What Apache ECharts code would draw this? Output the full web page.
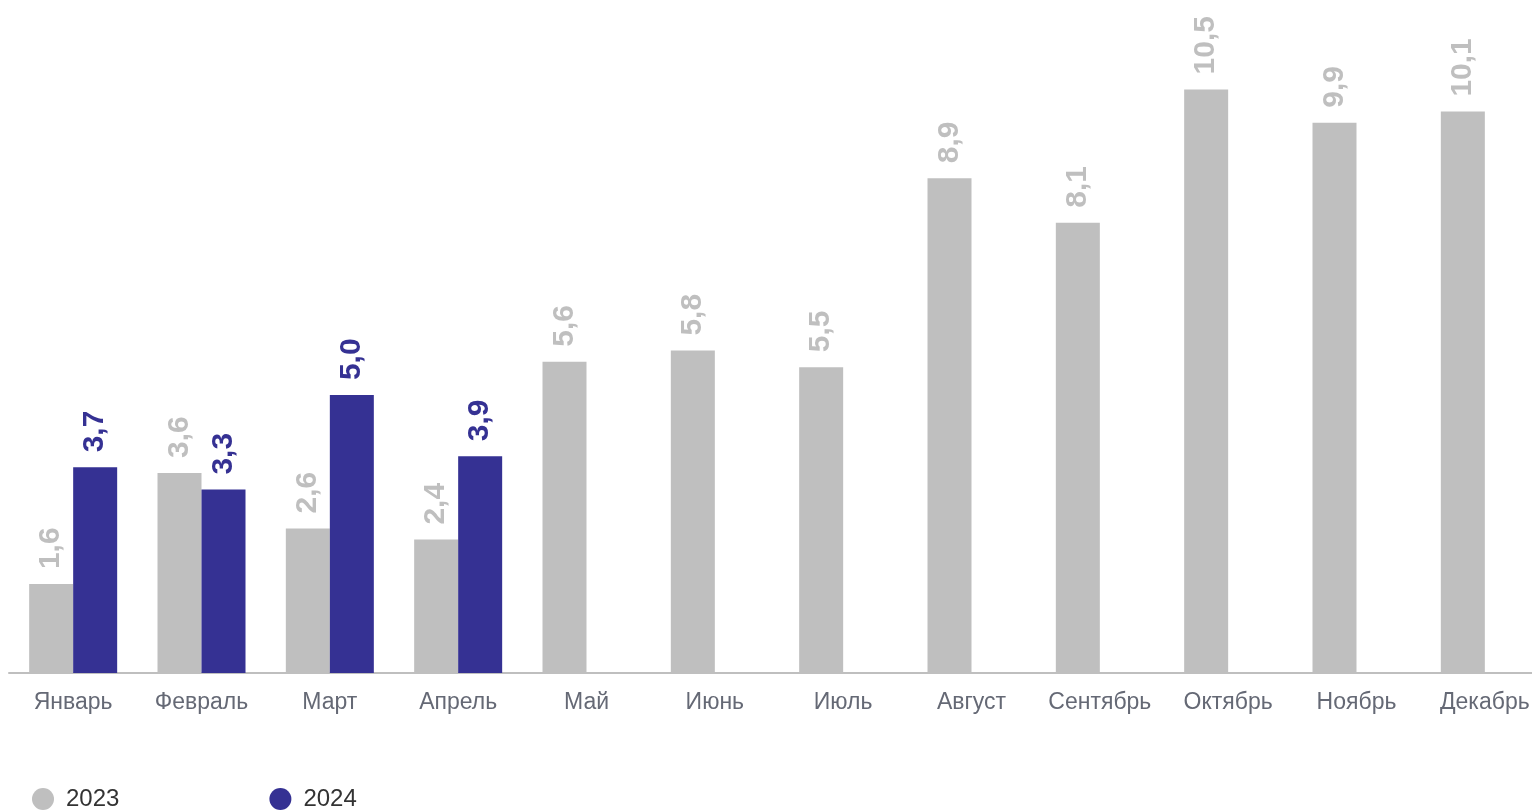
<!DOCTYPE html>
<html><head><meta charset="utf-8">
<script src="https://cdn.jsdelivr.net/npm/echarts@6/dist/echarts.min.js"></script>
<style>html,body{margin:0;padding:0;background:#fff}#c{width:1532px;height:810px}</style>
</head><body><div id="c"></div>
<script>
const categories = ['Январь','Февраль','Март','Апрель','Май','Июнь','Июль','Август','Сентябрь','Октябрь','Ноябрь','Декабрь'];
const values2023 = [1.6,3.6,2.6,2.4,5.6,5.8,5.5,8.9,8.1,10.5,9.9,10.1];
const values2024 = [3.7,3.3,5.0,3.9,null,null,null,null,null,null,null,null];
const seriesNames = ['2023','2024'];

const chart = echarts.init(document.getElementById('c'));
const fmt = p => p.value == null ? '' : p.value.toFixed(1).replace('.', ',');
function lbl(color){
  return {show:true, position:'top', rotate:90, align:'left', verticalAlign:'middle', distance:15,
    color:color, fontFamily:'Liberation Sans, Arial, sans-serif', fontWeight:'bold', fontSize:30, formatter:fmt};
}
chart.setOption({
  animation:false,
  grid:{left:9, width:1540, top:6, bottom:137, containLabel:false, outerBoundsMode:'none'},
  legend:{left:27, top:782, icon:'circle', itemWidth:22, itemHeight:22, itemGap:150,
    textStyle:{fontSize:24, color:'#333', fontFamily:'Liberation Sans, Arial, sans-serif', padding:[6,0,0,7]},
    data:seriesNames},
  xAxis:{type:'category', data:categories, axisTick:{show:false},
    axisLine:{lineStyle:{color:'#bfbfbf', width:2}},
    axisLabel:{fontSize:23, color:'#656975', margin:18, fontFamily:'Liberation Sans, Arial, sans-serif', interval:0}},
  yAxis:{type:'value', min:0, max:12, show:false, splitLine:{show:false}},
  series:[
    {name:seriesNames[0], type:'bar', data:values2023, barWidth:44, barGap:'0%', itemStyle:{color:'#bfbfbf'}, label:lbl('#bfbfbf')},
    {name:seriesNames[1], type:'bar', data:values2024, barWidth:44, barGap:'0%', itemStyle:{color:'#353193'}, label:lbl('#353193')}
  ]
});
</script></body></html>
